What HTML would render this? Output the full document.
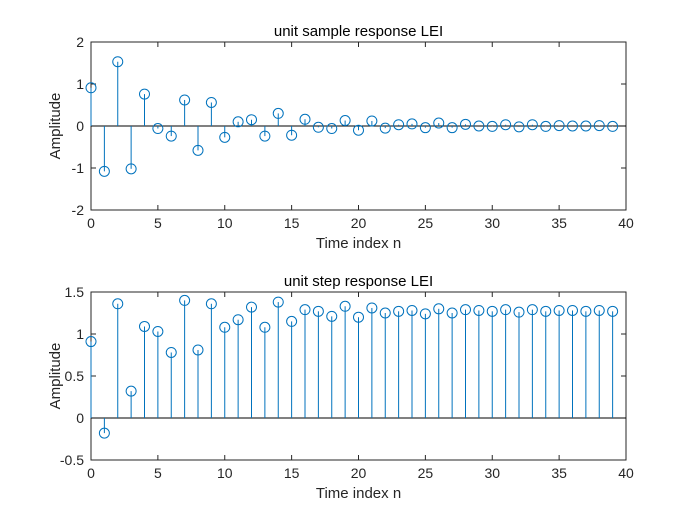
<!DOCTYPE html>
<html><head><meta charset="utf-8"><style>
body{margin:0;background:#fff}
svg{display:block;font-family:"Liberation Sans",Arial,sans-serif}
</style></head><body>
<svg id="fig" width="700" height="525" viewBox="0 0 700 525">
<rect width="700" height="525" fill="#fff"/>
</svg>
<script>
const indices=[];for(let i=0;i<40;i++)indices.push(i);
const sampleValues=[0.91,-1.08,1.53,-1.02,0.76,-0.06,-0.24,0.62,-0.58,0.56,-0.27,0.10,0.15,-0.24,0.30,-0.22,0.16,-0.03,-0.06,0.13,-0.10,0.12,-0.05,0.03,0.05,-0.04,0.07,-0.04,0.04,0.00,-0.01,0.03,-0.02,0.03,-0.01,0.01,0.00,0.00,0.01,-0.01];
const stepValues=[0.91,-0.18,1.36,0.32,1.09,1.03,0.78,1.40,0.81,1.36,1.08,1.17,1.32,1.08,1.38,1.15,1.29,1.27,1.21,1.33,1.20,1.31,1.25,1.27,1.28,1.24,1.30,1.25,1.29,1.28,1.27,1.29,1.26,1.29,1.27,1.28,1.28,1.27,1.28,1.27];
const xTicks=[0,5,10,15,20,25,30,35,40];
const topYTicks=[-2,-1,0,1,2];
const botYTicks=[-0.5,0,0.5,1,1.5];
const NS='http://www.w3.org/2000/svg';
const svg=document.getElementById('fig');
function mk(t,a,p){const e=document.createElementNS(NS,t);for(const k in a)e.setAttribute(k,a[k]);(p||svg).appendChild(e);return e;}
function panel(name,top,bottom,ymin,ymax,yTicks,vals,title){
  const L=91,R=626;
  const g=mk('g',{});
  
  
  const xs=v=>L+(v-0)/(40-0)*(R-L);
  const ys=v=>bottom-(v-ymin)/(ymax-ymin)*(bottom-top);
  mk('rect',{x:L,y:top,width:R-L,height:bottom-top,fill:'#fff',stroke:'#262626','stroke-width':1},g);
  xTicks.forEach(t=>{
    mk('line',{x1:xs(t),x2:xs(t),y1:bottom,y2:bottom-5,stroke:'#262626'},g);
    mk('line',{x1:xs(t),x2:xs(t),y1:top,y2:top+5,stroke:'#262626'},g);
    const tx=mk('text',{x:xs(t),y:bottom+18,'text-anchor':'middle','font-size':14,fill:'#262626'},g);
    tx.textContent=t;
    
    
  });
  yTicks.forEach(t=>{
    mk('line',{x1:L,x2:L+5,y1:ys(t),y2:ys(t),stroke:'#262626'},g);
    mk('line',{x1:R,x2:R-5,y1:ys(t),y2:ys(t),stroke:'#262626'},g);
    const tx=mk('text',{x:L-7,y:ys(t)+5,'text-anchor':'end','font-size':14,fill:'#262626'},g);
    tx.textContent=t;
    
    
  });
  mk('line',{x1:L,x2:R,y1:ys(0),y2:ys(0),stroke:'#000','stroke-width':1},g);
  indices.forEach((n,i)=>{
    const v=vals[i];
    const s=mk('line',{x1:xs(n),x2:xs(n),y1:ys(0),y2:ys(v),stroke:'#0072BD','stroke-width':1},g);
    
    
    const c=mk('circle',{cx:xs(n),cy:ys(v),r:5,fill:'none',stroke:'#0072BD','stroke-width':1},g);
    
    
  });
  const ti=mk('text',{x:(L+R)/2,y:top-6,'text-anchor':'middle','font-size':15,fill:'#000'},g);
  ti.textContent=title;
  
  
  const xl=mk('text',{x:(L+R)/2,y:bottom+38,'text-anchor':'middle','font-size':15,fill:'#262626'},g);
  xl.textContent='Time index n';
  
  
  const cy=(top+bottom)/2;
  const yl=mk('text',{x:60,y:cy,'text-anchor':'middle','font-size':15,fill:'#262626',transform:`rotate(-90 60 ${cy})`},g);
  yl.textContent='Amplitude';
  
  
}
panel('unit-sample-panel',42,210,-2,2,topYTicks,sampleValues,'unit sample response LEI');
panel('unit-step-panel',292,460,-0.5,1.5,botYTicks,stepValues,'unit step response LEI');
</script>
</body></html>
